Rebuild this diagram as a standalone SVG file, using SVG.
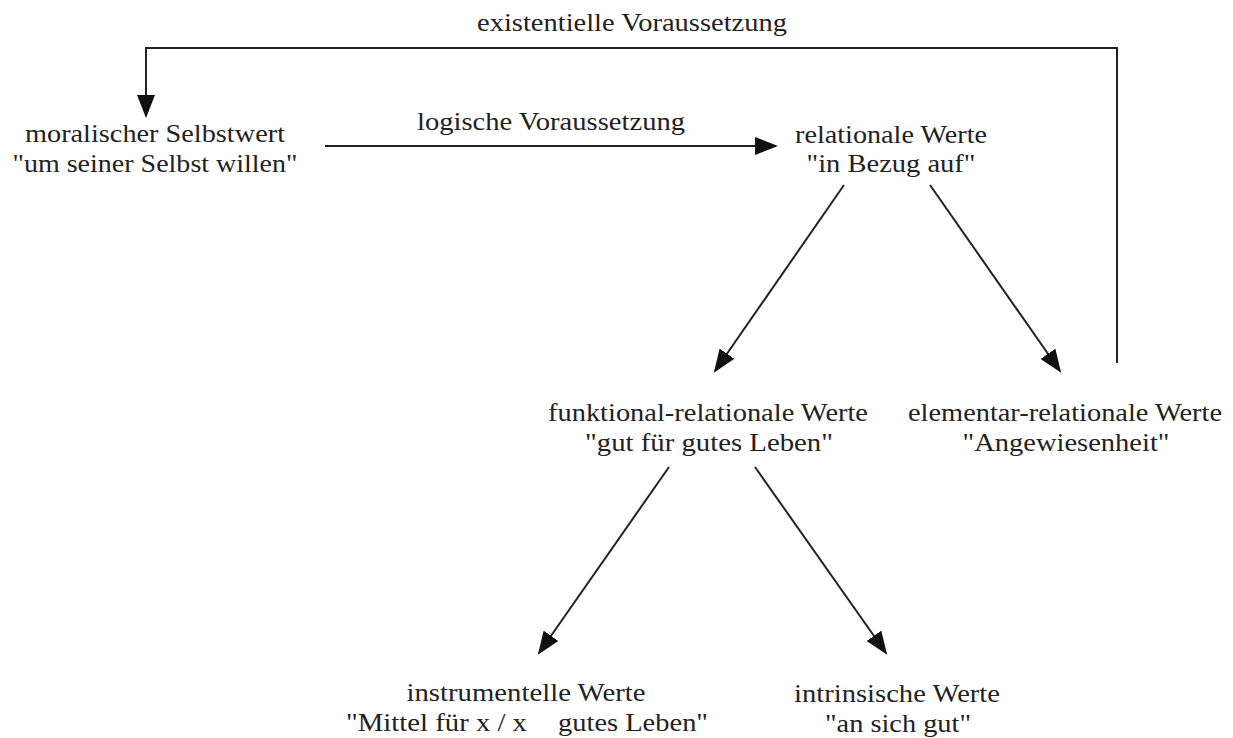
<svg xmlns="http://www.w3.org/2000/svg" width="1233" height="738" viewBox="0 0 1233 738">
<style>
  text { font-family: "Liberation Serif", "Times New Roman", serif; font-size: 26px; fill: #222; }
  .c { text-anchor: middle; }
  .conn { fill: none; stroke: #222; stroke-width: 2; }
</style>
<defs>
  <marker id="ah" markerUnits="userSpaceOnUse" markerWidth="23" markerHeight="18" viewBox="0 0 23 18" refX="21" refY="9" orient="auto">
    <path d="M0,0 L23,9 L0,18 z" fill="#111"/>
  </marker>
</defs>
<rect width="1233" height="738" fill="#fff"/>
<g id="connectors">
  <polyline class="conn" points="1117,363 1117,48 146,48 146,116" marker-end="url(#ah)"/>
  <text class="c" x="632" y="31" textLength="310" lengthAdjust="spacingAndGlyphs">existentielle Voraussetzung</text>
  <line class="conn" x1="325" y1="146" x2="776" y2="146" marker-end="url(#ah)"/>
  <text class="c" x="551" y="130" textLength="268" lengthAdjust="spacingAndGlyphs">logische Voraussetzung</text>
  <line class="conn" x1="844" y1="185" x2="715" y2="371" marker-end="url(#ah)"/>
  <line class="conn" x1="930" y1="185" x2="1060" y2="371" marker-end="url(#ah)"/>
  <line class="conn" x1="669" y1="467" x2="539" y2="653" marker-end="url(#ah)"/>
  <line class="conn" x1="755" y1="467" x2="886" y2="653" marker-end="url(#ah)"/>
</g>
<g id="node-moralisch">
  <text class="c" x="155" y="142" textLength="260" lengthAdjust="spacingAndGlyphs">moralischer Selbstwert</text>
  <text class="c" x="155" y="172" textLength="285" lengthAdjust="spacingAndGlyphs">"um seiner Selbst willen"</text>
</g>
<g id="node-relational">
  <text class="c" x="891" y="143" textLength="192" lengthAdjust="spacingAndGlyphs">relationale Werte</text>
  <text class="c" x="891" y="172" textLength="169" lengthAdjust="spacingAndGlyphs">"in Bezug auf"</text>
</g>
<g id="node-funktional">
  <text class="c" x="708" y="421" textLength="320" lengthAdjust="spacingAndGlyphs">funktional-relationale Werte</text>
  <text class="c" x="709" y="451" textLength="248" lengthAdjust="spacingAndGlyphs">"gut für gutes Leben"</text>
</g>
<g id="node-elementar">
  <text class="c" x="1065" y="421" textLength="314" lengthAdjust="spacingAndGlyphs">elementar-relationale Werte</text>
  <text class="c" x="1066" y="451" textLength="207" lengthAdjust="spacingAndGlyphs">"Angewiesenheit"</text>
</g>
<g id="node-instrumentell">
  <text class="c" x="526" y="701" textLength="239" lengthAdjust="spacingAndGlyphs">instrumentelle Werte</text>
  <text y="731"><tspan x="346" textLength="181" lengthAdjust="spacingAndGlyphs">"Mittel für x / x</tspan><tspan x="558" textLength="150" lengthAdjust="spacingAndGlyphs">gutes Leben"</tspan></text>
</g>
<g id="node-intrinsisch">
  <text class="c" x="897" y="702" textLength="206" lengthAdjust="spacingAndGlyphs">intrinsische Werte</text>
  <text class="c" x="898" y="732" textLength="146" lengthAdjust="spacingAndGlyphs">"an sich gut"</text>
</g>
</svg>
